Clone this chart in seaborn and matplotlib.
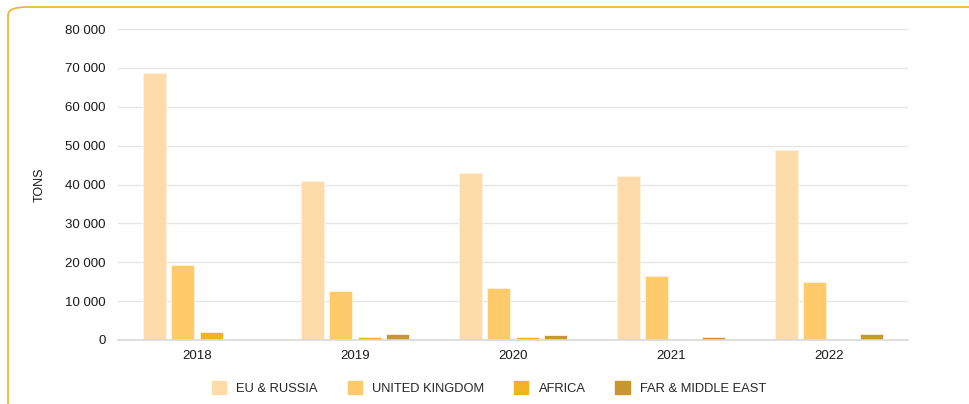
import matplotlib
matplotlib.use("Agg")
import matplotlib.pyplot as plt
import seaborn as sns
import pandas as pd
from matplotlib.patches import FancyBboxPatch
from matplotlib.ticker import FuncFormatter, MultipleLocator

years = ["2018", "2019", "2020", "2021", "2022"]
series = ["EU & RUSSIA", "UNITED KINGDOM", "AFRICA", "FAR & MIDDLE EAST"]
eu_russia = [68700, 41000, 43000, 42200, 48800]
united_kingdom = [19400, 12500, 13500, 16500, 15000]
africa = [2000, 700, 850, 0, 0]
far_middle_east = [0, 1500, 1200, 900, 1500]
colors = ["#FDDCAA", "#FFCA6A", "#F0B323", "#C8962F"]

rows = []
for name, vals in zip(series, [eu_russia, united_kingdom, africa, far_middle_east]):
    for y, v in zip(years, vals):
        rows.append({"year": y, "region": name, "tons": v})
df = pd.DataFrame(rows)

sns.set_theme(style="white")
plt.rcParams['font.family'] = ['Liberation Sans', 'DejaVu Sans']

fig = plt.figure(figsize=(9.69, 4.04), dpi=100)
ax = fig.add_axes([118/969, 1-340/404, (908-118)/969, (340-29)/404])

sns.barplot(data=df, x="year", y="tons", hue="region", hue_order=series,
            palette=colors, width=0.72, gap=0.2, ax=ax,
            edgecolor="#FFF3DF", linewidth=0.6, saturation=1)

ax.set_ylim(0, 80000)
ax.yaxis.set_major_locator(MultipleLocator(10000))
ax.yaxis.set_major_formatter(FuncFormatter(lambda v, p: f"{int(v):,}".replace(",", " ")))
ax.grid(axis="y", color="#E6E6E6", linewidth=1)
ax.set_axisbelow(True)
for s in ["top", "right", "left"]:
    ax.spines[s].set_visible(False)
ax.spines["bottom"].set_color("#D9D9D9")
ax.spines["bottom"].set_linewidth(1.2)
ax.tick_params(axis="y", length=0, labelsize=9.5, colors="#1a1a1a", pad=9)
ax.tick_params(axis="x", length=0, labelsize=9.5, colors="#1a1a1a", pad=7)
ax.set_xlabel("")
ax.set_ylabel("TONS", fontsize=9, color="#1a1a1a", labelpad=14)

ax.legend_.remove()
handles = [plt.Rectangle((0, 0), 1, 1, color=c) for c in colors]
fig.legend(handles, series, loc="center", bbox_to_anchor=(489/969, 1-388/404),
           ncol=4, frameon=False, fontsize=9.3, handlelength=1.1, handleheight=1.1,
           columnspacing=2.3, handletextpad=0.8)

border = FancyBboxPatch((8/969, -0.2), 1.2, 1.2 - 7/404,
                        boxstyle="round,pad=0,rounding_size=0.02",
                        transform=fig.transFigure, fill=False,
                        edgecolor="#F0B323", linewidth=1.2, clip_on=False)
fig.patches.append(border)

fig.savefig("out.png", dpi=100)
